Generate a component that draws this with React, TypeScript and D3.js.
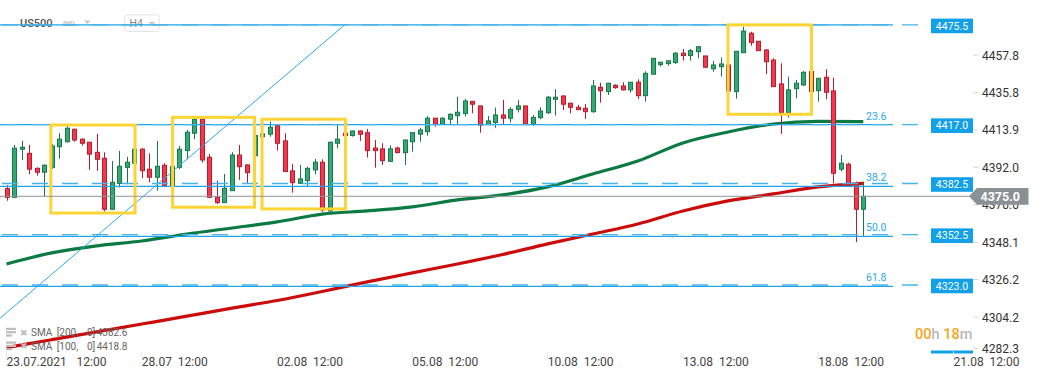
import React from 'react';
import * as d3 from 'd3';

const opens = [4379.5,4374.4,4402.6,4400.2,4391.4,4389.1,4392.0,4404.1,4407.0,4414.3,4408.5,4406.7,4400.8,4397.3,4367.4,4382.6,4392.0,4394.4,4402.6,4390.9,4386.2,4393.2,4381.1,4392.0,4401.8,4412.0,4420.2,4397.9,4374.4,4371.3,4378.3,4399.2,4393.4,4398.8,4410.0,4411.4,4416.4,4407.5,4389.9,4382.6,4384.2,4390.5,4395.0,4366.4,4406.1,4412.0,4410.6,4413.3,4412.3,4403.3,4402.8,4395.5,4403.3,4400.6,4407.0,4411.4,4412.9,4420.8,4417.2,4420.2,4422.3,4423.5,4430.7,4428.0,4417.2,4418.2,4422.7,4420.8,4426.0,4428.0,4417.2,4421.1,4424.0,4431.9,4433.8,4429.6,4427.2,4426.6,4424.6,4438.9,4436.4,4440.1,4439.7,4437.4,4441.9,4434.0,4446.6,4452.2,4452.8,4453.4,4458.9,4457.5,4459.8,4457.3,4449.8,4451.0,4452.0,4436.4,4459.2,4470.6,4465.9,4460.8,4454.9,4440.9,4424.0,4438.1,4440.3,4448.1,4436.9,4444.8,4436.8,4390.9,4393.8,4381.2,4367.4];
const highs = [4381.5,4405.1,4407.5,4405.1,4392.0,4393.8,4405.7,4412.0,4416.2,4414.7,4409.0,4406.9,4411.6,4400.8,4395.7,4401.6,4398.1,4403.9,4403.3,4400.2,4407.5,4394.4,4393.4,4404.5,4413.9,4420.9,4420.9,4399.8,4384.2,4388.1,4400.8,4405.1,4393.7,4411.6,4411.8,4418.8,4416.8,4412.0,4394.0,4393.4,4392.4,4396.9,4396.7,4407.0,4416.8,4412.1,4413.6,4413.6,4414.5,4408.0,4406.1,4404.9,4404.1,4408.3,4412.7,4415.2,4422.1,4420.9,4421.3,4423.6,4433.4,4432.1,4430.9,4428.0,4422.1,4427.0,4431.5,4427.2,4431.5,4428.0,4422.7,4427.2,4433.8,4437.8,4434.4,4429.7,4428.6,4429.1,4443.2,4441.6,4441.5,4440.7,4441.9,4442.0,4443.6,4448.3,4456.1,4453.9,4454.9,4459.6,4461.4,4461.4,4463.1,4457.3,4454.4,4456.3,4453.0,4460.2,4474.5,4471.5,4466.1,4461.4,4455.9,4453.0,4445.2,4443.2,4448.5,4449.1,4444.4,4449.5,4444.6,4399.2,4394.7,4383.6,4383.6];
const lows = [4372.4,4374.0,4396.3,4387.9,4387.1,4375.2,4391.0,4397.1,4406.5,4407.0,4404.7,4390.5,4389.9,4366.0,4367.0,4380.1,4382.1,4393.4,4385.6,4383.2,4378.3,4380.3,4379.9,4390.9,4396.7,4408.5,4394.7,4374.0,4370.5,4371.1,4378.1,4384.6,4382.6,4398.1,4409.8,4410.0,4401.8,4389.3,4377.1,4382.2,4381.1,4387.9,4365.8,4364.7,4403.2,4410.4,4410.0,4407.5,4397.7,4391.8,4393.4,4395.4,4400.2,4393.4,4401.2,4407.0,4410.6,4415.8,4416.8,4417.2,4417.2,4421.7,4423.7,4412.3,4417.1,4415.2,4417.2,4418.2,4424.2,4416.8,4416.2,4420.2,4423.3,4422.3,4425.6,4423.7,4425.6,4420.4,4424.0,4429.9,4434.4,4438.1,4437.1,4435.8,4432.1,4430.5,4446.4,4451.0,4451.6,4452.6,4454.5,4454.5,4455.9,4450.1,4448.1,4445.2,4436.5,4432.3,4459.0,4463.3,4460.2,4446.7,4439.1,4411.6,4421.1,4432.5,4439.7,4436.2,4430.5,4431.9,4382.6,4389.5,4382.5,4348.1,4351.8];
const closes = [4374.4,4403.2,4403.8,4390.9,4389.1,4393.2,4404.5,4408.5,4414.9,4408.0,4406.1,4399.7,4396.7,4367.4,4383.2,4392.6,4395.0,4402.6,4390.0,4386.2,4392.6,4381.2,4392.4,4402.6,4412.6,4420.2,4396.3,4374.4,4371.3,4379.7,4399.2,4392.4,4388.9,4410.6,4411.6,4415.5,4406.1,4389.5,4383.0,4385.2,4391.4,4395.0,4367.0,4406.7,4408.5,4410.6,4413.3,4411.4,4401.8,4401.8,4395.9,4402.8,4400.6,4408.0,4412.3,4413.9,4420.8,4417.2,4420.8,4423.1,4424.3,4430.9,4429.0,4416.8,4419.2,4422.7,4420.8,4426.0,4428.0,4417.2,4421.3,4425.0,4433.1,4433.1,4429.0,4427.2,4425.8,4424.6,4439.7,4436.9,4441.3,4438.7,4437.4,4441.9,4434.0,4447.1,4455.9,4453.6,4454.4,4458.9,4457.5,4460.4,4462.7,4450.7,4452.0,4452.6,4436.8,4460.0,4471.9,4465.1,4460.4,4453.9,4439.3,4424.0,4437.4,4441.3,4447.7,4436.4,4444.2,4436.0,4388.5,4394.4,4382.6,4367.4,4375.0];

const smaIdx = [0,6,12,18,24,30,36,42,48,54,60,66,72,78,84,90,96,102,108,114];
const sma100 = [4335.3,4341.8,4345.9,4348.8,4352.9,4356.4,4360.0,4364.6,4366.4,4368.8,4372.9,4375.8,4380.5,4388.1,4395.7,4406.3,4412.7,4417.4,4418.9,4418.8];
const sma200 = [4286.3,4290.9,4295.5,4300.1,4304.7,4309.4,4313.9,4319.2,4324.8,4330.1,4335.3,4340.9,4347.1,4352.9,4358.8,4366.4,4372.3,4376.4,4380.5,4382.6];

const yTicks = [4457.8,4435.8,4413.9,4392.0,4370.0,4348.1,4326.2,4304.2,4282.3];
const xTickIdx = [0,18,36,54,72,90,108,126];
const xTickDates = ['23.07.2021','28.07','02.08','05.08','10.08','13.08','18.08','21.08'];
const xTickTimes = ['12:00','12:00','12:00','12:00','12:00','12:00','12:00','12:00'];

const levels = [4475.5,4417.0,4382.5,4352.5,4323.0];
const fibHigh = 4475.5;
const fibLow = 4227.5;
const fibLevels = [0,23.6,38.2,50.0,61.8];

const boxStart = [5.9,22.1,34.0,96.0];
const boxEnd = [17.1,33.0,45.1,107.1];
const boxTop = [4416.8,4421.3,4420.2,4475.5];
const boxBottom = [4365.2,4368.6,4367.6,4423.1];

const trendIdx = [-1,45];
const trendPrice = [4303.0,4475.5];

const lastPrice = 4375.0;
const legendNames = ['SMA','SMA'];
const legendParams = ['[200,','[100,'];
const legendValues = ['4382.6','4418.8'];

const FONT = 'Roboto, "Noto Sans", sans-serif';
const BLUE = '#1ea3e6';

export default function App() {
  const x = d3.scaleLinear().domain([0, 126]).range([6.5, 953.5]);
  const y = d3.scaleLinear().domain([4282.3, 4475.5]).range([354.4, 24.9]);

  const line = d3.line<number>()
    .x((_, i) => x(smaIdx[i]))
    .y((d) => y(d))
    .curve(d3.curveMonotoneX);

  const fibPrice = (l: number) => fibHigh - (fibHigh - fibLow) * l / 100;
  const py = y(lastPrice);

  return (
    <svg width={1041} height={379} style={{ position: 'absolute', left: 0, top: 0, background: '#fff' }} fontFamily={FONT}>
      <rect x={0} y={0} width={1041} height={379} fill="#fff" />
      {/* header */}
      <text x={20} y={27.3} fontSize={11} fontWeight={500} fill="#555">US500</text>
      <text x={63} y={26} fontSize={7} fontWeight={700} fill="#c4c4c4">IND</text>
      <path d="M84,20.5 L90.7,20.5 L87.35,24 Z" fill="#c8c8c8" />
      <rect x={124.5} y={14.8} width={34.7} height={16.8} rx={3} fill="#fff" stroke="#e3e3e3" />
      <text x={129.5} y={27.2} fontSize={10.5} fill="#888">H4</text>
      <path d="M148.3,22 L155.7,22 L152,25.3 Z" fill="#c8c8c8" />

      {/* SMA lines */}
      <path d={line(sma200) || ''} fill="none" stroke="#cc0c0c" strokeWidth={3.2} />
      <path d={line(sma100) || ''} fill="none" stroke="#0b7a43" strokeWidth={3.2} />

      {/* candles */}
      {opens.map((o, i) => {
        const c = closes[i];
        const up = c >= o;
        const cx = Math.round(x(i)) + 0.5;
        const top = y(Math.max(o, c));
        const bot = y(Math.min(o, c));
        const stroke = up ? '#17794a' : '#b71d2d';
        const fill = up ? '#35a873' : '#f2384c';
        return (
          <g key={i}>
            <line x1={cx} x2={cx} y1={y(highs[i])} y2={y(lows[i])} stroke={stroke} strokeWidth={1} />
            <rect x={cx - 2} y={top} width={4} height={Math.max(bot - top, 1)} fill={fill} stroke={stroke} strokeWidth={1} />
          </g>
        );
      })}

      {/* trend line */}
      <line x1={x(trendIdx[0])} y1={y(trendPrice[0])} x2={x(trendIdx[1])} y2={y(trendPrice[1])} stroke="#2aa8ea" strokeWidth={1} />

      {/* fib lines */}
      {fibLevels.map((l, i) => {
        const yy = y(fibPrice(l));
        return (
          <g key={'f' + i}>
            <line x1={0} x2={893} y1={yy} y2={yy} stroke={BLUE} strokeWidth={1.2} />
            {l > 0 && (
              <text x={866} y={yy - 5} fontSize={10.5} fill="#2aa8ea">{l.toFixed(1)}</text>
            )}
          </g>
        );
      })}

      {/* level lines */}
      {levels.map((p, i) => {
        const yy = y(p);
        return (
          <g key={'l' + i}>
            <line x1={2} x2={918} y1={yy} y2={yy} stroke="#45b4ec" strokeWidth={1.3} strokeDasharray="16 14" />
            <rect x={931} y={yy + 1 - 7.3} width={42} height={14.6} fill="#12a0e8" />
            <text x={952} y={yy + 1 + 3.7} fontSize={10.5} fill="#fff" textAnchor="middle">{p.toFixed(1)}</text>
          </g>
        );
      })}
      <rect x={931} y={350.5} width={42} height={3} fill="#12a0e8" />

      {/* boxes */}
      {boxStart.map((b, i) => (
        <rect key={'b' + i} x={x(b)} y={y(boxTop[i])} width={x(boxEnd[i]) - x(b)} height={y(boxBottom[i]) - y(boxTop[i])}
          fill="none" stroke="#fcd434" strokeWidth={3} />
      ))}

      {/* y axis */}
      {yTicks.map((t, i) => {
        const yy = Math.min(y(t), 348.3);
        return (
          <g key={'y' + i}>
            <line x1={973} x2={978.5} y1={yy} y2={yy} stroke="#d8d8d8" />
            <text x={982} y={yy + 4.5} fontSize={12} fill="#333">{t.toFixed(1)}</text>
          </g>
        );
      })}

      {/* current price */}
      <line x1={0} x2={970} y1={py} y2={py} stroke="#8e9598" strokeWidth={1} />
      <path d={`M969,${py} L977,${py - 8.4} L1028.5,${py - 8.4} L1028.5,${py + 8.4} L977,${py + 8.4} Z`} fill="#8a9194" />
      <text x={980.5} y={py + 4.6} fontSize={12.5} fontWeight={700} fill="#fff">{lastPrice.toFixed(1)}</text>

      {/* x axis */}
      {xTickIdx.map((t, i) => {
        const xx = x(t);
        const dx = xTickDates[i].length > 6 ? 70 : 36;
        return (
          <g key={'x' + i}>
            <line x1={xx} x2={xx} y1={351.5} y2={358} stroke="#e4e4e4" />
            <text x={xx} y={366} fontSize={12} fill="#444">{xTickDates[i]}</text>
            <text x={xx + dx} y={366} fontSize={12} fill="#444">{xTickTimes[i]}</text>
          </g>
        );
      })}

      {/* legend */}
      {legendNames.map((n, i) => {
        const yy = 332.3 + i * 13.7;
        return (
          <g key={'lg' + i} fontSize={10} fill="#666">
            <rect x={6} y={yy - 4.5} width={10} height={2.2} fill="#bdbdbd" />
            <rect x={6} y={yy - 1.2} width={10} height={2.2} fill="#bdbdbd" />
            <rect x={6} y={yy + 2.1} width={6} height={2.2} fill="#bdbdbd" />
            <text x={19.5} y={yy + 3.3} fontSize={9} fill="#bdbdbd">✖</text>
            <text x={31} y={yy + 3.6}>{n}</text>
            <text x={56.7} y={yy + 3.6}>{legendParams[i]}</text>
            <text x={87} y={yy + 3.6}>0]</text>
            <text x={96.7} y={yy + 3.6}>{legendValues[i]}</text>
          </g>
        );
      })}

      {/* countdown */}
      <text x={915} y={339} fontSize={14.5} fontWeight={500}>
        <tspan fill="#f5a623">00</tspan>
        <tspan fill="#b8b8b8">h </tspan>
        <tspan fill="#f5a623">18</tspan>
        <tspan fill="#b8b8b8">m</tspan>
      </text>
    </svg>
  );
}
